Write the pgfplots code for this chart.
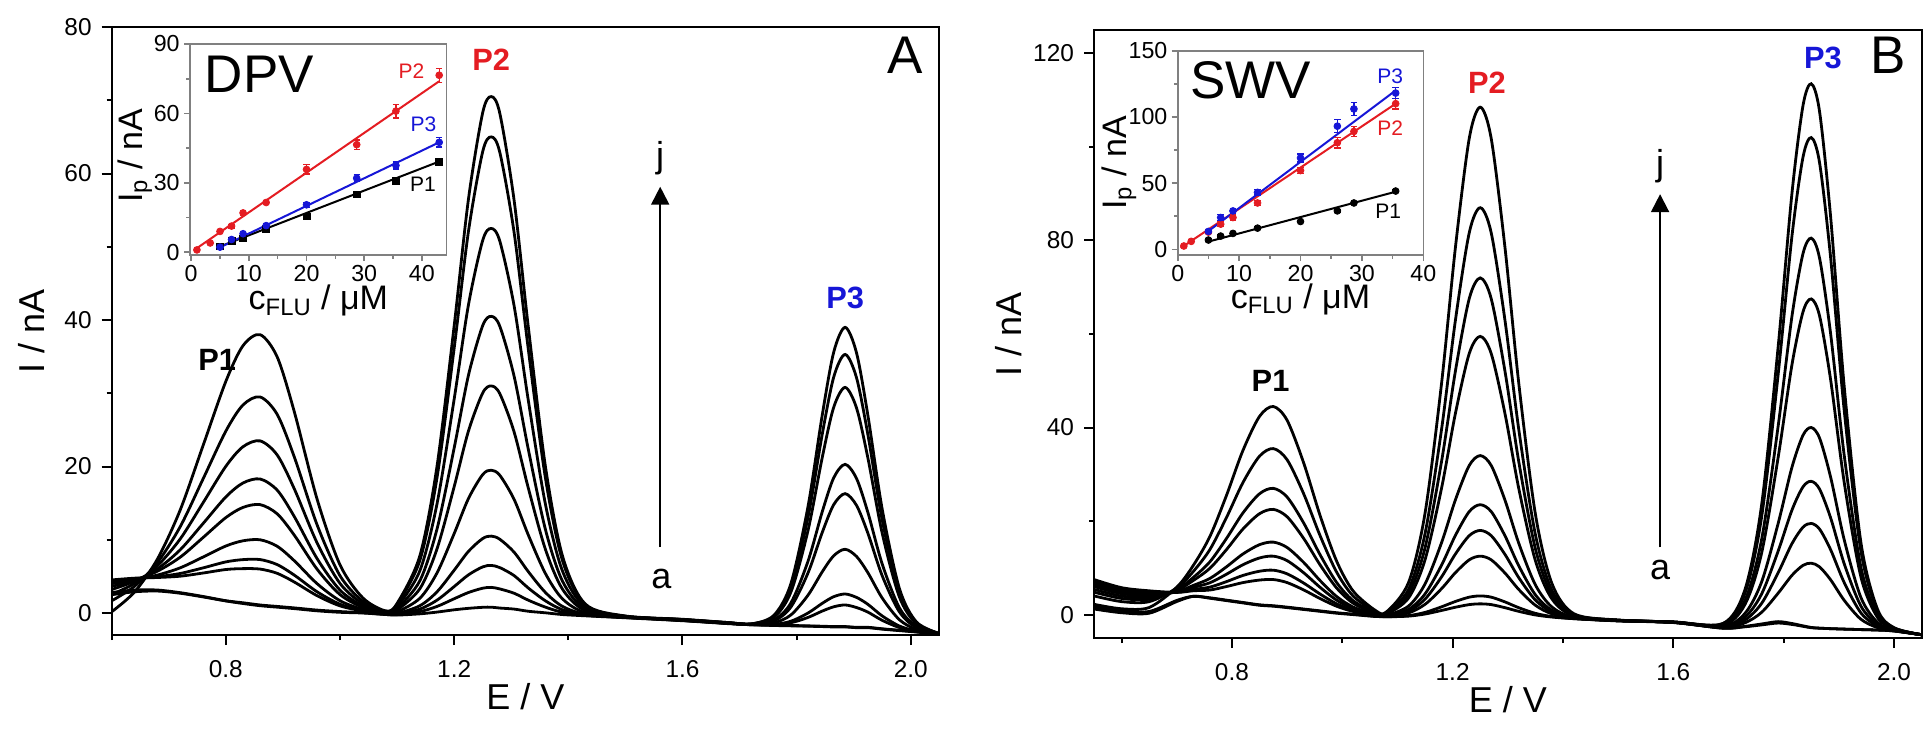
\documentclass[border=0pt]{standalone}
\usepackage{pgfplots}
\pgfplotsset{compat=1.18}
\usepackage{pgfplotstable}
\usetikzlibrary{arrows.meta}
\usepackage{fontspec}
\setmainfont{Liberation Sans}
\definecolor{pred}{RGB}{228,28,34}
\definecolor{pblue}{RGB}{22,22,215}

\pgfplotstableread{
E a b c d e f g h i j
0.60 2.5 2.8 4.52 4.35 4.01 3.63 3.21 2.53 1.67 0.17
0.64 2.9 3.14 4.76 4.69 4.56 4.49 4.33 4.04 3.65 2.87
0.68 3.0 3.14 4.85 4.96 5.18 5.71 6.01 6.44 6.88 7.35
0.72 2.7 2.78 5.03 5.40 6.17 7.62 8.63 10.11 11.78 14.06
0.76 2.2 2.26 5.46 6.16 7.64 10.3 12.21 15.04 18.29 22.84
0.80 1.65 1.68 5.94 6.98 9.15 13.03 15.85 20.03 24.84 31.63
0.83 1.3 1.4 6.06 7.29 9.86 14.42 17.75 22.7 28.4 36.49
0.86 1.0 1.1 6.0 7.3 10.0 14.8 18.3 23.5 29.5 38.0
0.89 0.8 0.9 5.42 6.61 9.11 13.54 16.77 21.57 27.11 34.95
0.92 0.6 0.7 4.23 5.17 7.13 10.62 13.16 16.94 21.29 27.46
0.96 0.3 0.4 2.36 2.89 4.0 5.97 7.41 9.55 12.01 15.51
1.00 0.1 0.2 0.98 1.20 1.68 2.52 3.13 4.04 5.09 6.58
1.04 0.0 0.05 0.28 0.35 0.5 0.77 0.97 1.26 1.60 2.07
1.08 -0.2 -0.2 -0.13 -0.12 -0.08 -0.01 0.03 0.10 0.18 0.30
1.10 -0.28 -0.22 -0.15 -0.06 0.14 0.41 0.62 0.90 1.18 1.31
1.14 -0.11 0.20 0.54 1.0 2.02 3.33 4.42 5.79 7.21 7.84
1.17 0.13 0.90 1.76 2.9 5.48 8.77 11.48 14.92 18.49 20.06
1.20 0.44 1.95 3.61 5.84 10.84 17.24 22.52 29.19 36.14 39.20
1.225 0.64 2.80 5.21 8.41 15.62 24.83 32.44 42.05 52.07 56.47
1.25 0.78 3.39 6.30 10.17 18.90 30.04 39.24 50.87 62.99 68.31
1.265 0.8 3.5 6.5 10.5 19.5 31 40.5 52.5 65 70.5
1.28 0.68 3.29 6.20 10.07 18.80 29.94 39.14 50.77 62.89 68.21
1.305 0.54 2.70 5.11 8.31 15.52 24.73 32.34 41.95 51.97 56.37
1.33 0.24 1.75 3.41 5.64 10.64 17.04 22.32 28.99 35.94 39.0
1.36 0.03 0.80 1.66 2.8 5.38 8.67 11.38 14.82 18.39 19.96
1.39 -0.21 0.10 0.44 0.9 1.92 3.23 4.32 5.69 7.11 7.74
1.43 -0.38 -0.32 -0.25 -0.16 0.04 0.31 0.52 0.80 1.08 1.21
1.50 -0.65 -0.6 -0.6 -0.55 -0.55 -0.5 -0.5 -0.45 -0.45 -0.4
1.60 -1.05 -1.0 -1.0 -1.0 -0.95 -0.95 -0.9 -0.9 -0.9 -0.85
1.68 -1.45 -1.4 -1.4 -1.4 -1.4 -1.35 -1.35 -1.35 -1.3 -1.3
1.72 -1.6 -1.55 -1.59 -1.59 -1.57 -1.55 -1.54 -1.51 -1.5 -1.49
1.76 -1.7 -1.65 -1.6 -1.55 -1.34 -1.09 -0.95 -0.6 -0.45 -0.32
1.79 -1.75 -1.7 -1.33 -1.12 -0.26 0.82 1.38 2.86 3.5 4.02
1.82 -1.8 -1.75 -0.6 0.0 2.44 5.48 7.08 11.28 13.08 14.56
1.845 -1.85 -1.8 0.27 1.33 5.64 11.02 13.85 21.27 24.45 27.07
1.865 -1.9 -1.85 0.85 2.23 7.82 14.79 18.46 28.09 32.21 35.61
1.885 -1.9 -1.85 1.1 2.6 8.7 16.3 20.3 30.8 35.3 39.0
1.905 -2.0 -1.95 0.75 2.13 7.72 14.69 18.36 27.99 32.11 35.51
1.925 -2.0 -1.95 0.12 1.18 5.49 10.87 13.70 21.12 24.30 26.92
1.95 -2.2 -2.15 -1.0 -0.4 2.04 5.08 6.68 10.88 12.68 14.16
1.98 -2.4 -2.35 -1.98 -1.77 -0.91 0.17 0.73 2.21 2.85 3.37
2.01 -2.6 -2.55 -2.5 -2.45 -2.24 -1.99 -1.85 -1.5 -1.35 -1.22
2.05 -2.9 -2.9 -2.89 -2.89 -2.87 -2.85 -2.84 -2.81 -2.8 -2.79
}\dataA

\pgfplotstableread{
E a b c d e f g h i j
0.55 1.2 1.7 7.5 7.0 6.5 6.0 5.4 4.8 4.0 2.2
0.60 0.4 0.83 5.76 5.33 4.9 4.48 3.97 3.46 2.78 1.25
0.65 0.3 0.68 5.09 4.73 4.4 4.05 3.68 3.28 2.77 1.52
0.70 2.8 3.03 4.75 4.76 4.83 4.9 5.21 5.36 5.71 5.86
0.73 3.9 3.93 5.1 5.38 5.82 6.25 7.3 7.96 9.23 10.53
0.76 3.5 3.6 5.26 5.88 6.81 7.73 9.9 11.29 13.91 16.69
0.79 3.0 3.1 6.0 7.05 8.63 10.21 13.89 16.26 20.73 25.46
0.82 2.5 2.6 6.85 8.38 10.67 12.97 18.31 21.75 28.25 35.12
0.85 2.0 2.1 7.39 9.28 12.12 14.96 21.58 25.84 33.88 42.39
0.875 1.8 1.9 7.5 9.5 12.5 15.5 22.5 27.0 35.5 44.5
0.90 1.5 1.6 6.85 8.72 11.54 14.35 20.92 25.14 33.11 41.55
0.93 1.1 1.2 5.28 6.75 8.95 11.16 16.29 19.6 25.84 32.44
0.96 0.7 0.8 3.42 4.38 5.81 7.25 10.59 12.75 16.81 21.11
0.99 0.3 0.4 1.78 2.29 3.07 3.85 5.66 6.83 9.03 11.36
1.02 0.0 0.1 0.67 0.9 1.25 1.60 2.42 2.95 3.94 5.0
1.06 -0.4 -0.35 -0.23 -0.17 -0.07 0.02 0.23 0.37 0.62 0.9
1.08 -0.47 -0.46 -0.37 -0.32 -0.26 -0.16 0.1 0.22 0.37 0.58
1.12 -0.32 -0.21 0.36 0.74 1.11 1.82 3.54 4.38 5.39 6.84
1.15 0.13 0.47 2.2 3.31 4.43 6.56 11.74 14.28 17.32 21.69
1.18 0.89 1.67 5.56 8.08 10.6 15.41 27.09 32.81 39.68 49.53
1.205 1.58 2.81 8.97 12.95 16.93 24.53 43.0 52.05 62.91 78.47
1.23 2.14 3.73 11.71 16.87 22.02 31.87 55.79 67.52 81.59 101.75
1.25 2.3 4.0 12.5 18.0 23.5 34.0 59.5 72.0 87.0 108.5
1.27 2.14 3.73 11.71 16.87 22.02 31.87 55.79 67.52 81.59 101.75
1.295 1.48 2.71 8.87 12.85 16.83 24.43 42.9 51.95 62.81 78.37
1.32 0.69 1.47 5.36 7.88 10.4 15.21 26.89 32.61 39.48 49.33
1.35 -0.07 0.27 2.0 3.11 4.23 6.36 11.54 14.08 17.12 21.49
1.38 -0.52 -0.41 0.16 0.54 0.91 1.62 3.34 4.18 5.19 6.64
1.42 -0.87 -0.86 -0.77 -0.72 -0.66 -0.56 -0.3 -0.18 -0.03 0.18
1.50 -1.35 -1.3 -1.3 -1.3 -1.25 -1.25 -1.2 -1.2 -1.2 -1.15
1.60 -1.7 -1.65 -1.65 -1.65 -1.65 -1.6 -1.6 -1.6 -1.6 -1.55
1.69 -2.9 -2.9 -2.78 -2.7 -2.62 -2.52 -2.28 -2.17 -1.98 -1.88
1.73 -2.6 -2.5 -1.74 -1.14 -0.52 0.29 2.21 3.11 4.62 5.42
1.76 -2.2 -2.0 0.49 2.4 4.41 6.99 13.15 16.06 20.88 23.45
1.79 -1.8 -1.5 4.59 8.96 13.59 19.5 33.63 40.32 51.37 57.28
1.815 -2.1 -1.9 8.4 15.17 22.35 31.51 53.43 63.79 80.93 90.09
1.835 -2.5 -2.4 10.53 18.69 27.32 38.35 64.72 77.18 97.8 108.83
1.85 -2.8 -2.75 11.0 19.5 28.5 40.0 67.5 80.5 102.0 113.5
1.865 -2.9 -2.9 10.21 18.29 26.84 37.76 63.89 76.24 96.66 107.59
1.885 -3.0 -3.0 7.46 13.9 20.73 29.44 50.29 60.14 76.44 85.16
1.91 -3.1 -3.1 3.01 6.78 10.77 15.86 28.04 33.8 43.33 48.42
1.94 -3.2 -3.2 -0.99 0.37 1.81 3.65 8.05 10.13 13.57 15.41
1.97 -3.3 -3.3 -2.77 -2.44 -2.1 -1.66 -0.6 -0.1 0.72 1.17
2.00 -3.5 -3.5 -3.42 -3.36 -3.31 -3.24 -3.07 -2.99 -2.86 -2.79
2.05 -4.3 -4.3 -4.3 -4.3 -4.3 -4.3 -4.3 -4.3 -4.3 -4.3
}\dataB

\pgfplotsset{
  mainax/.style={
    scale only axis, width=413.8pt, height=304pt, anchor=south west,
    axis line style={line width=1pt},
    every tick/.style={black, line width=1pt},
    tick align=outside, xtick pos=left, ytick pos=left,
    major tick length=5pt, minor tick length=2.5pt,
    /pgf/number format/assume math mode=true,
    tick label style={font=\fontsize{12.2}{14}\selectfont},
    x tick label style={/pgf/number format/fixed, /pgf/number format/fixed zerofill, /pgf/number format/precision=1, yshift=-4pt},
    y tick label style={xshift=-1.5pt},
    label style={font=\fontsize{18}{20}\selectfont},
    xlabel={E / V}, ylabel={I / nA},
    xlabel style={at={(axis description cs:0.5,-0.122)}, anchor=base},
  },
  curve/.style={black, line width=1.4pt, smooth, mark=none},
  inax/.style={
    scale only axis, anchor=south west,
    axis background/.style={fill=white},
    axis line style={line width=0.8pt, gray},
    every tick/.style={gray, line width=0.8pt},
    tick align=outside, xtick pos=left, ytick pos=left,
    major tick length=3pt, minor tick length=1.8pt,
    /pgf/number format/assume math mode=true,
    tick label style={font=\fontsize{11.6}{13}\selectfont, inner sep=2pt},
    label style={font=\fontsize{17}{19}\selectfont},
    xlabel={c\textsubscript{FLU} / μM}, ylabel={I\textsubscript{p} / nA},
    xlabel style={at={(axis description cs:0.5,-0.26)}, anchor=base},
    clip=false,
  },
  ebar/.style={only marks, mark=*, mark size=1.7pt, #1, mark options={fill=#1, draw=#1},
    error bars/y dir=both, error bars/y explicit,
    error bars/error bar style={line width=0.6pt, #1},
    error bars/error mark options={rotate=90, mark size=1.6pt, line width=0.6pt, #1}},
  fitl/.style={line width=1pt, #1, mark=none},
}

\begin{document}
\begin{tikzpicture}
\useasboundingbox (0,0) rectangle (961.5pt,365pt);

% ---------------- Panel A ----------------
\begin{axis}[mainax, at={(55.85pt,47.5pt)},
  xmin=0.6, xmax=2.05, ymin=-3, ymax=80,
  xtick={0.8,1.2,1.6,2.0}, minor xtick={0.6,1.0,1.4,1.8},
  ytick={0,20,40,60,80}, minor ytick={10,30,50,70},
  ylabel style={at={(axis description cs:-0.0967,0.5)}, anchor=center}]
\foreach \c in {a,b,c,d,e,f,g,h,i,j}{
  \addplot[curve] table[x=E, y=\c] {\dataA};
}
\node[font=\fontsize{26.5}{30}\selectfont, anchor=base east] at (axis description cs:0.989,0.924) {A};
\node[font=\bfseries\fontsize{15.4}{17}\selectfont] at (axis cs:0.785,34.5) {P1};
\node[font=\bfseries\fontsize{15.4}{17}\selectfont, pred] at (axis cs:1.265,75.5) {P2};
\node[font=\bfseries\fontsize{15.4}{17}\selectfont, pblue] at (axis cs:1.885,43) {P3};
\draw[line width=1pt, -{Triangle[length=9pt,width=9pt]}] (axis cs:1.561,9) -- (axis cs:1.561,58.2);
\node[font=\fontsize{18}{20}\selectfont, anchor=base] at (axis cs:1.561,60.8) {j};
\node[font=\fontsize{18}{20}\selectfont] at (axis cs:1.563,4.6) {a};
\end{axis}

\begin{axis}[inax, at={(95pt,237.5pt)}, width=128.35pt, height=105.5pt,
  xmin=-0.2, xmax=44.3, ymin=-1.2, ymax=90,
  xtick={0,10,20,30,40}, minor xtick={5,15,25,35},
  ytick={0,30,60,90}, minor ytick={15,45,75},
  ylabel style={at={(axis description cs:-0.187,0.47)}, anchor=base}]
\addplot[fitl=black] coordinates {(4.5,2.0) (43,39.2)};
\addplot[fitl=pblue] coordinates {(4.5,1.5) (43,47.5)};
\addplot[fitl=pred] coordinates {(0.5,0.9) (43,73.9)};
\addplot[ebar=black, mark=square*] coordinates {(5,2.5)+-(0,0.5) (7,5)+-(0,0.5) (9,6)+-(0,0.7) (13,10)+-(0,0.7) (20,15.5)+-(0,1) (28.7,25)+-(0,1) (35.5,31)+-(0,1) (43,39)+-(0,1.5)};
\addplot[ebar=pblue] coordinates {(5,2.2)+-(0,1) (7,5.5)+-(0,1) (9,8)+-(0,1) (13,11.5)+-(0,1) (20,20.5)+-(0,1) (28.7,32)+-(0,1.5) (35.5,37.5)+-(0,1.5) (43,47.5)+-(0,2)};
\addplot[ebar=pred] coordinates {(1,1)+-(0,0.5) (3.3,4)+-(0,0.8) (5,9)+-(0,0.8) (7,11.3)+-(0,0.8) (9,17)+-(0,1) (13,21.5)+-(0,1) (20,35.8)+-(0,2) (28.7,46.5)+-(0,2) (35.5,61)+-(0,3) (43,76.5)+-(0,3)};
\node[font=\fontsize{26.5}{30}\selectfont, anchor=base west] at (axis description cs:0.03,0.77) {DPV};
\node[font=\fontsize{10.5}{12}\selectfont, anchor=base east, pred] at (axis description cs:0.94,0.837) {P2};
\node[font=\fontsize{10.5}{12}\selectfont, anchor=base east, pblue] at (axis description cs:0.987,0.584) {P3};
\node[font=\fontsize{10.5}{12}\selectfont, anchor=base east] at (axis description cs:0.985,0.30) {P1};
\end{axis}

% ---------------- Panel B ----------------
\begin{axis}[mainax, at={(547pt,46pt)},
  xmin=0.55, xmax=2.05, ymin=-5, ymax=125,
  xtick={0.8,1.2,1.6,2.0}, minor xtick={0.6,1.0,1.4,1.8},
  ytick={0,40,80,120}, minor ytick={20,60,100},
  ylabel style={at={(axis description cs:-0.1027,0.5)}, anchor=center}]
\foreach \c in {a,b,c,d,e,f,g,h,i,j}{
  \addplot[curve] table[x=E, y=\c] {\dataB};
}
\node[font=\fontsize{26.5}{30}\selectfont, anchor=base east] at (axis description cs:0.989,0.929) {B};
\node[font=\bfseries\fontsize{15.4}{17}\selectfont] at (axis cs:0.87,50) {P1};
\node[font=\bfseries\fontsize{15.4}{17}\selectfont, pred] at (axis cs:1.262,113.8) {P2};
\node[font=\bfseries\fontsize{15.4}{17}\selectfont, pblue] at (axis cs:1.871,119.1) {P3};
\draw[line width=1pt, -{Triangle[length=9pt,width=9pt]}] (axis cs:1.576,14.4) -- (axis cs:1.576,89.9);
\node[font=\fontsize{18}{20}\selectfont, anchor=base] at (axis cs:1.576,93.9) {j};
\node[font=\fontsize{18}{20}\selectfont] at (axis cs:1.576,9.6) {a};
\end{axis}

\begin{axis}[inax, at={(588.85pt,237.5pt)}, width=122.8pt, height=102.15pt,
  xmin=0, xmax=40, ymin=-4.3, ymax=150,
  xtick={0,10,20,30,40}, minor xtick={5,15,25,35},
  ytick={0,50,100,150}, minor ytick={25,75,125},
  ylabel style={at={(axis description cs:-0.21,0.45)}, anchor=base}]
\addplot[fitl=black] coordinates {(5,5.8) (35.5,43.5)};
\addplot[fitl=pred] coordinates {(0.5,1) (35.5,110)};
\addplot[fitl=pblue] coordinates {(4.5,12) (35.5,120)};
\addplot[ebar=black] coordinates {(5,7)+-(0,1) (7,10)+-(0,1) (9,12)+-(0,1) (13,16)+-(0,1) (20,21)+-(0,1) (26,29)+-(0,1) (28.7,35)+-(0,1) (35.5,44)+-(0,1)};
\addplot[ebar=pred] coordinates {(1,2.5)+-(0,1) (2.2,6)+-(0,1) (5,13)+-(0,1) (7,19)+-(0,2) (9,24)+-(0,2) (13,35)+-(0,2) (20,59.5)+-(0,2) (26,80.5)+-(0,4) (28.7,89)+-(0,4) (35.5,110)+-(0,4)};
\addplot[ebar=pblue] coordinates {(5,13.5)+-(0,1.5) (7,24)+-(0,2) (9,29)+-(0,2) (13,43)+-(0,2) (20,69)+-(0,3) (26,93)+-(0,5) (28.7,106)+-(0,5) (35.5,118)+-(0,4)};
\node[font=\fontsize{26.5}{30}\selectfont, anchor=base west] at (axis description cs:0.023,0.767) {SWV};
\node[font=\fontsize{10.5}{12}\selectfont, anchor=base east, pblue] at (axis description cs:0.946,0.84) {P3};
\node[font=\fontsize{10.5}{12}\selectfont, anchor=base east, pred] at (axis description cs:0.946,0.587) {P2};
\node[font=\fontsize{10.5}{12}\selectfont, anchor=base east] at (axis description cs:0.938,0.18) {P1};
\end{axis}
\end{tikzpicture}
\end{document}
